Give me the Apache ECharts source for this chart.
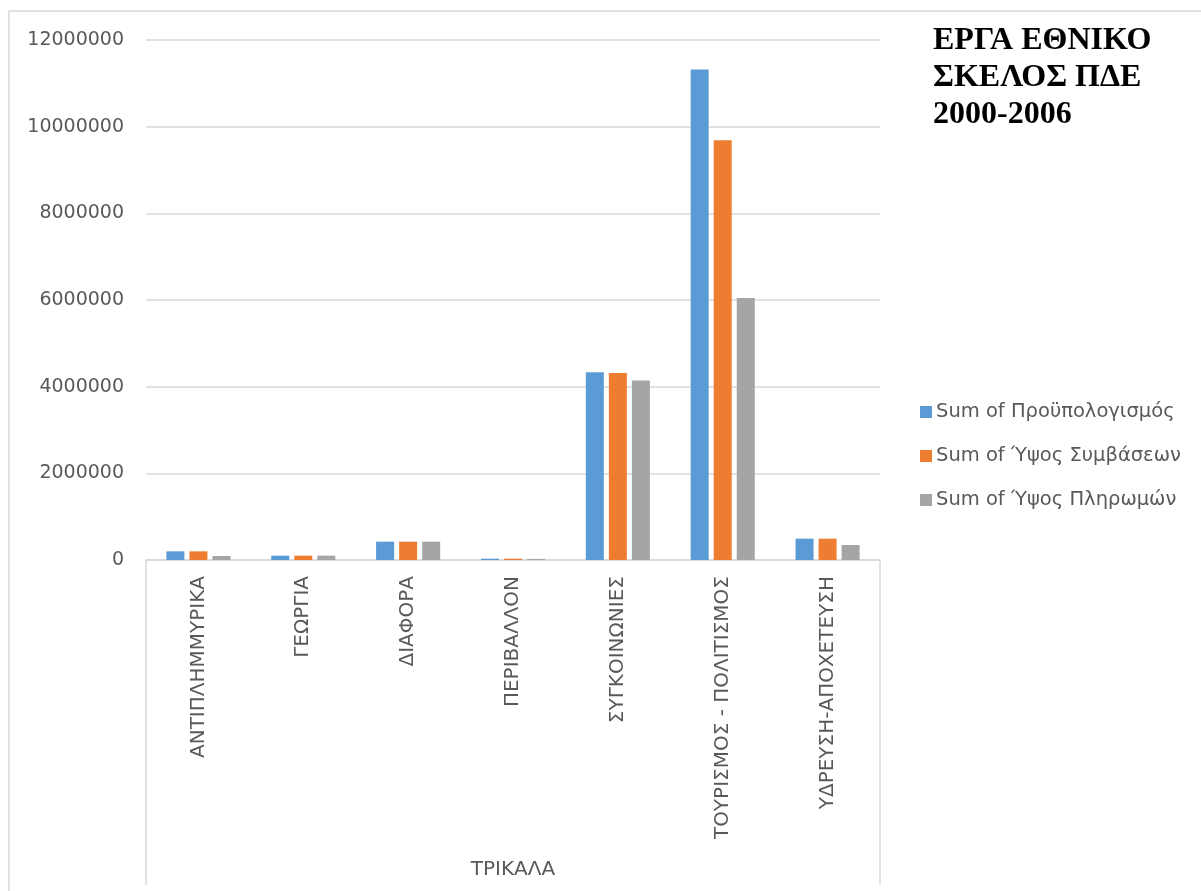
<!DOCTYPE html>
<html>
<head>
<meta charset="utf-8">
<script src="https://cdn.jsdelivr.net/npm/echarts@6/dist/echarts.min.js"></script>
<style>
html,body{margin:0;padding:0;background:#fff;}
#chart{width:1201px;height:891px;}
</style>
</head>
<body>
<div id="chart"></div>
<script>
const categories = ['ΑΝΤΙΠΛΗΜΜΥΡΙΚΑ','ΓΕΩΡΓΙΑ','ΔΙΑΦΟΡΑ','ΠΕΡΙΒΑΛΛΟΝ','ΣΥΓΚΟΙΝΩΝΙΕΣ','ΤΟΥΡΙΣΜΟΣ - ΠΟΛΙΤΙΣΜΟΣ','ΥΔΡΕΥΣΗ-ΑΠΟΧΕΤΕΥΣΗ'];
const groupLabel = 'ΤΡΙΚΑΛΑ';
const seriesNames = ['Sum of Προϋπολογισμός','Sum of Ύψος Συμβάσεων','Sum of Ύψος Πληρωμών'];
const budget    = [200000, 100000, 423000, 30000, 4330000, 11320000, 492000];
const contracts = [200000, 100000, 423000, 30000, 4315000, 9686000, 492000];
const payments  = [92000, 100000, 423000, 25000, 4140000, 6046000, 346000];
const yTicks = [0, 2000000, 4000000, 6000000, 8000000, 10000000, 12000000];
const titleLines = ['ΕΡΓΑ ΕΘΝΙΚΟ','ΣΚΕΛΟΣ ΠΔΕ','2000-2006'];

const colors = ['#5B9BD5','#ED7D31','#A5A5A5'];
const font = 'DejaVu Sans';
const chart = echarts.init(document.getElementById('chart'));

const gridLeft = 146, gridRight = 880, gridTop = 40, gridBottom = 560;

function bar(name, data, color){
  return {
    name: name, type: 'bar', data: data, barWidth: 18, barGap: '28%',
    itemStyle: {color: color}
  };
}

chart.setOption({
  backgroundColor: '#fff',
  animation: false,
  color: colors,
  grid: {left: gridLeft, right: 1201 - gridRight, top: gridTop, bottom: 891 - gridBottom, containLabel: false},
  xAxis: {
    type: 'category', data: categories,
    axisLine: {show: true, lineStyle: {color: '#d9d9d9', width: 1.5}},
    axisTick: {show: false},
    axisLabel: {rotate: 90, color: '#595959', fontFamily: font, fontSize: 20, margin: 16, interval: 0}
  },
  yAxis: {
    type: 'value', min: yTicks[0], max: yTicks[yTicks.length-1], interval: yTicks[1]-yTicks[0],
    axisLine: {show: false}, axisTick: {show: false},
    splitLine: {lineStyle: {color: '#d9d9d9', width: 1.5}},
    axisLabel: {color: '#595959', fontFamily: font, fontSize: 19, margin: 22, formatter: function(v){ return String(v); }}
  },
  legend: {
    orient: 'vertical', left: 915, top: 397, itemWidth: 12, itemHeight: 12, itemGap: 24,
    icon: 'rect',
    textStyle: {color: '#595959', fontFamily: font, fontSize: 19.5, padding: [0,0,0,-1]},
    data: seriesNames
  },
  series: [bar(seriesNames[0], budget, colors[0]), bar(seriesNames[1], contracts, colors[1]), bar(seriesNames[2], payments, colors[2])],
  graphic: [
    {type: 'rect', silent: true, shape: {x: 9, y: 11, width: 1250, height: 950}, style: {fill: 'none', stroke: '#d9d9d9', lineWidth: 1.5}},
    {type: 'line', silent: true, shape: {x1: gridLeft, y1: gridBottom, x2: gridLeft, y2: 885}, style: {stroke: '#d9d9d9', lineWidth: 1.5}},
    {type: 'line', silent: true, shape: {x1: gridRight, y1: gridBottom, x2: gridRight, y2: 885}, style: {stroke: '#d9d9d9', lineWidth: 1.5}},
    {type: 'text', silent: true, style: {text: groupLabel, fill: '#595959', font: '20px "DejaVu Sans"', x: (gridLeft+gridRight)/2, y: 870, textAlign: 'center', textVerticalAlign: 'middle'}},
    {type: 'text', silent: true, style: {text: titleLines.join('\n'), x: 933, y: 22, fill: '#000', font: 'bold 32px "Liberation Serif"', lineHeight: 37}}
  ]
});
</script>
</body>
</html>
